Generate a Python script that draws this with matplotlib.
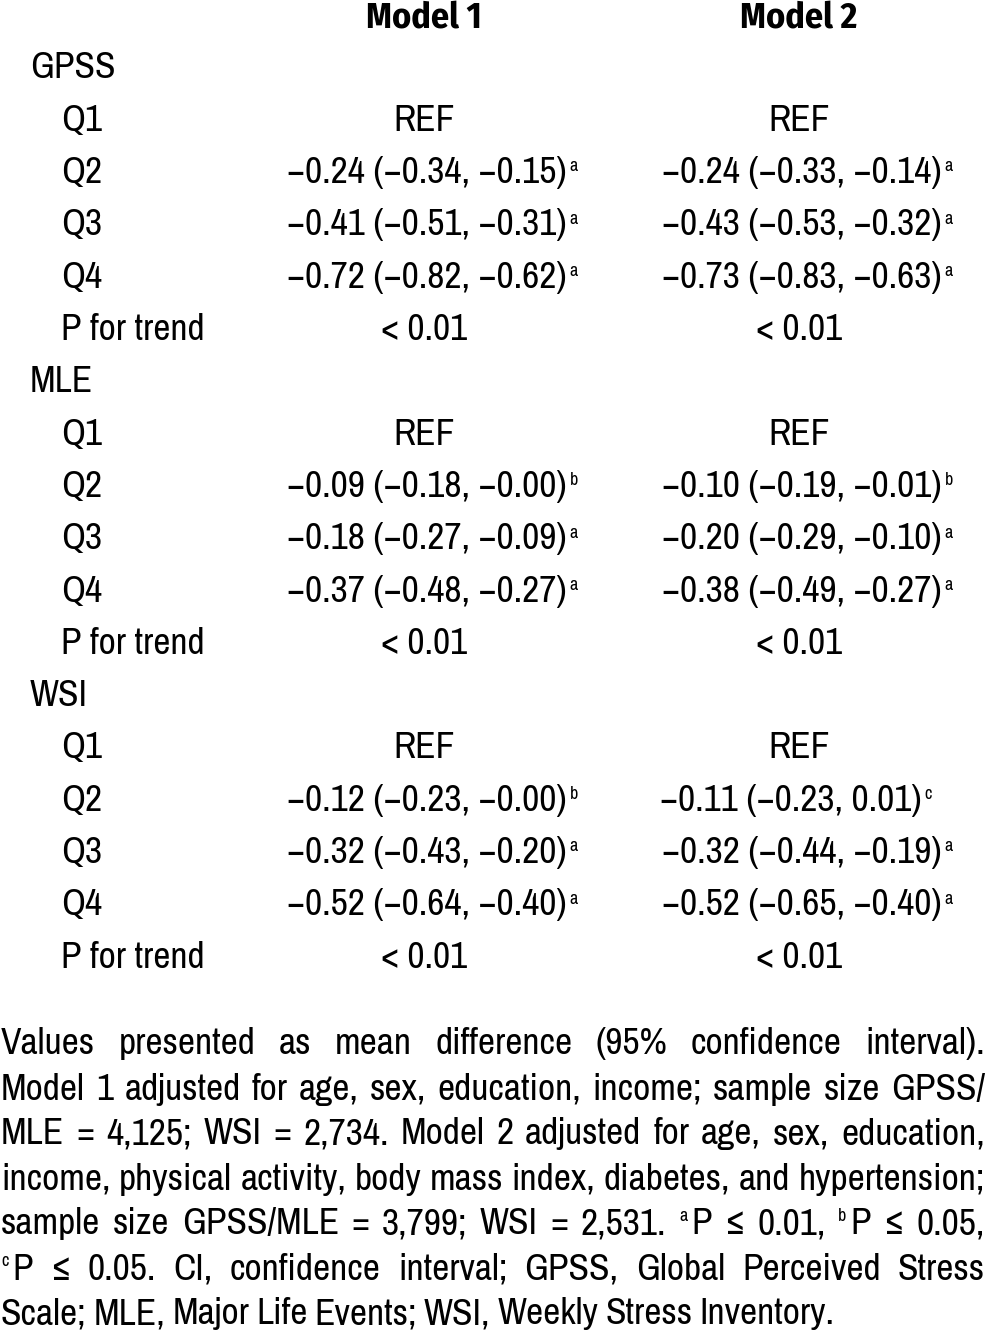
import matplotlib
matplotlib.use("Agg")
import matplotlib.pyplot as plt
from matplotlib import font_manager

# table contents
models = ["Model 1", "Model 2"]
groups = ["GPSS", "MLE", "WSI"]
row_labels = ["Q1", "Q2", "Q3", "Q4", "P for trend"]
model1 = [
    ["REF", "\u22120.24 (\u22120.34, \u22120.15)", "\u22120.41 (\u22120.51, \u22120.31)", "\u22120.72 (\u22120.82, \u22120.62)", "< 0.01"],
    ["REF", "\u22120.09 (\u22120.18, \u22120.00)", "\u22120.18 (\u22120.27, \u22120.09)", "\u22120.37 (\u22120.48, \u22120.27)", "< 0.01"],
    ["REF", "\u22120.12 (\u22120.23, \u22120.00)", "\u22120.32 (\u22120.43, \u22120.20)", "\u22120.52 (\u22120.64, \u22120.40)", "< 0.01"],
]
model1_sup = [
    ["", "a", "a", "a", ""],
    ["", "b", "a", "a", ""],
    ["", "b", "a", "a", ""],
]
model2 = [
    ["REF", "\u22120.24 (\u22120.33, \u22120.14)", "\u22120.43 (\u22120.53, \u22120.32)", "\u22120.73 (\u22120.83, \u22120.63)", "< 0.01"],
    ["REF", "\u22120.10 (\u22120.19, \u22120.01)", "\u22120.20 (\u22120.29, \u22120.10)", "\u22120.38 (\u22120.49, \u22120.27)", "< 0.01"],
    ["REF", "\u22120.11 (\u22120.23, 0.01)", "\u22120.32 (\u22120.44, \u22120.19)", "\u22120.52 (\u22120.65, \u22120.40)", "< 0.01"],
]
model2_sup = [
    ["", "a", "a", "a", ""],
    ["", "b", "a", "a", ""],
    ["", "c", "a", "a", ""],
]

# footnote lines; "^x" marks a superscript letter
footnote = [
    "Values presented as mean difference (95% confidence interval).",
    "Model 1 adjusted for age, sex, education, income; sample size GPSS/",
    "MLE = 4,125; WSI = 2,734. Model 2 adjusted for age, sex, education,",
    "income, physical activity, body mass index, diabetes, and hypertension;",
    "sample size GPSS/MLE = 3,799; WSI = 2,531. ^a P \u2264 0.01, ^b P \u2264 0.05,",
    "^c P \u2264 0.05. CI, confidence interval; GPSS, Global Perceived Stress",
    "Scale; MLE, Major Life Events; WSI, Weekly Stress Inventory.",
]

plt.rcParams["font.family"] = ["Archivo Narrow", "DejaVu Sans"]

# a narrow family that really has a bold face, for the header
bold_fam = "DejaVu Sans"
for cand in ["Archivo Narrow", "Fira Sans Condensed", "IBM Plex Sans Condensed"]:
    if any(f.name == cand and f.weight in (600, 700, "bold") for f in font_manager.fontManager.ttflist):
        bold_fam = cand
        break

W, H = 986, 1335
fig = plt.figure(figsize=(W / 100, H / 100), dpi=100)
ax = fig.add_axes([0, 0, 1, 1])
ax.set_xlim(0, W)
ax.set_ylim(H, 0)
ax.axis("off")

fs = 27
sup_fs = 13


def cell(x, y, txt, sup):
    t = ax.text(x, y, txt, fontsize=fs, ha="center", va="center")
    if sup:
        ax.annotate(sup, xy=(1, 0.93), xycoords=t, xytext=(2, 0),
                    textcoords="offset points", fontsize=sup_fs, ha="left", va="top")


for x, m in zip([424, 799], models):
    ax.text(x, 18, m, fontsize=26, fontweight="bold", family=[bold_fam, "DejaVu Sans"],
            ha="center", va="center")

y = 68
step = 52.3
for g, grp in enumerate(groups):
    ax.text(30, y, grp, fontsize=fs, ha="left", va="center")
    y += step
    for r, lab in enumerate(row_labels):
        ax.text(61, y, lab, fontsize=fs, ha="left", va="center")
        short = model1[g][r] in ("REF", "< 0.01")
        cx1 = 424 if short else 427
        cx2 = 799 if short else 802
        if g == 2 and r == 1:
            cx2 = 791
        cell(cx1, y, model1[g][r], model1_sup[g][r])
        cell(cx2, y, model2[g][r], model2_sup[g][r])
        y += step

# justified footnote
renderer = fig.canvas.get_renderer()
left, right = 1, 985
fy = 1044
for li, line in enumerate(footnote):
    size = 27
    while True:
        items = []
        for w in line.split(" "):
            if w.startswith("^"):
                items.append((ax.text(0, fy, w[1:], fontsize=13, ha="left", va="center"), True))
            else:
                items.append((ax.text(0, fy, w, fontsize=size, ha="left", va="center"), False))
        widths = [t.get_window_extent(renderer).width for t, s in items]
        nsp = sum(1 for i in range(len(items) - 1) if not items[i][1])
        fixed = sum(4 for i in range(len(items) - 1) if items[i][1])
        gap = (right - left - sum(widths) - fixed) / max(nsp, 1)
        if li == len(footnote) - 1 or gap >= 5 or size < 18:
            break
        for t, s in items:
            t.remove()
        size -= 0.5
    if li == len(footnote) - 1:
        gap = 7
    x = left
    for i, (t, s) in enumerate(items):
        t.set_position((x, fy - 8 if s else fy))
        x += widths[i] + (4 if s else gap)
    fy += 45

fig.savefig("out.png", dpi=100)
